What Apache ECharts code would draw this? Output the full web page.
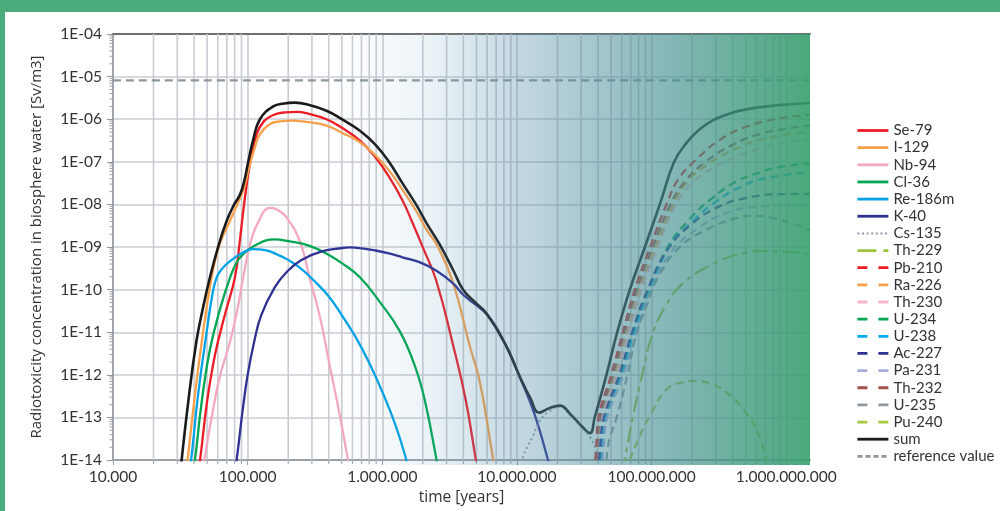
<!DOCTYPE html>
<html>
<head>
<meta charset="utf-8">
<script src="https://cdn.jsdelivr.net/npm/echarts@6/dist/echarts.min.js"></script>
<style>
html,body{margin:0;padding:0;background:#fff;}
#chart{width:1000px;height:511px;}
</style>
</head>
<body>
<div id="chart"></div>
<script>
// ---------- tick labels ----------
const xTickValues = [1e4, 1e5, 1e6, 1e7, 1e8, 1e9];
const xTickLabels = ['10.000', '100.000', '1.000.000', '10.000.000', '100.000.000', '1.000.000.000'];
const yTickValues = [1e-14, 1e-13, 1e-12, 1e-11, 1e-10, 1e-9, 1e-8, 1e-7, 1e-6, 1e-5, 1e-4];
const yTickLabels = ['1E-14', '1E-13', '1E-12', '1E-11', '1E-10', '1E-09', '1E-08', '1E-07', '1E-06', '1E-05', '1E-04'];
const xMinorValues = [2e4,3e4,4e4,5e4,6e4,7e4,8e4,9e4, 2e5,3e5,4e5,5e5,6e5,7e5,8e5,9e5, 2e6,3e6,4e6,5e6,6e6,7e6,8e6,9e6,
                      2e7,3e7,4e7,5e7,6e7,7e7,8e7,9e7, 2e8,3e8,4e8,5e8,6e8,7e8,8e8,9e8];
const yMinorValues = [];
[1e-14,1e-13,1e-12,1e-11,1e-10,1e-9,1e-8,1e-7,1e-6,1e-5].forEach(d => [2,3,4,5,6,7,8,9].forEach(m => yMinorValues.push(d * m)));

// ---------- series data: [time (years), concentration (Sv/m3)] ----------
const se79 = [[4.27e4,5e-15],[4.43e4,1e-14],[5.01e4,2.5e-13],[5.75e4,3.16e-12],[6.76e4,2.5e-11],[8.05e4,1.95e-10],[8.71e4,1.26e-9],[9.27e4,6.9e-9],[9.77e4,2.5e-8],[1.047e5,1.0e-7],[1.167e5,4.47e-7],[1.318e5,8.9e-7],[1.55e5,1.26e-6],[1.905e5,1.45e-6],[2.31e5,1.49e-6],[2.82e5,1.35e-6],[3.85e5,1.0e-6],[5.01e5,6.3e-7],[6.82e5,3.16e-7],[8.91e5,1.26e-7],[1.12e6,4.47e-8],[1.41e6,1.26e-8],[1.66e6,3.98e-9],[2.0e6,9.8e-10],[2.51e6,1.66e-10],[3.37e6,4.7e-12],[4.17e6,2.5e-13],[4.95e6,1e-14],[5.13e6,5e-15]];
const i129 = [[3.47e4,5e-15],[3.58e4,1e-14],[3.98e4,2.0e-13],[4.57e4,6.3e-12],[5.37e4,1.78e-10],[6.17e4,1.12e-9],[7.24e4,3.55e-9],[8.77e4,1.41e-8],[9.55e4,2.82e-8],[1.01e5,6.3e-8],[1.122e5,2.0e-7],[1.233e5,4.47e-7],[1.466e5,7.76e-7],[1.74e5,8.9e-7],[2.12e5,9.3e-7],[2.82e5,8.5e-7],[3.85e5,7.1e-7],[5.01e5,4.8e-7],[6.82e5,2.88e-7],[8.91e5,1.41e-7],[1.12e6,6.3e-8],[1.41e6,2.24e-8],[1.78e6,7.1e-9],[2.14e6,2.5e-9],[2.6e6,9.8e-10],[3.37e6,1.38e-10],[4.47e6,4.7e-12],[5.31e6,6.6e-13],[6.67e6,1e-14],[6.92e6,5e-15]];
const nb94 = [[4.57e4,5e-15],[4.76e4,1e-14],[5.43e4,1.1e-13],[6.22e4,9.3e-13],[7.4e4,6.0e-12],[8.47e4,4.0e-11],[9.27e4,1.95e-10],[1.04e5,1.15e-9],[1.19e5,3.7e-9],[1.466e5,8.3e-9],[1.68e5,7.4e-9],[1.95e5,4.9e-9],[2.44e5,1.38e-9],[2.88e5,1.95e-10],[3.44e5,2.3e-11],[4.08e5,1.58e-12],[4.84e5,1.1e-13],[5.56e5,1e-14],[5.75e5,5e-15]];
const cl36 = [[3.89e4,5e-15],[4.06e4,1e-14],[4.57e4,2.5e-13],[5.25e4,4.0e-12],[6.31e4,4.0e-11],[7.41e4,1.95e-10],[8.3e4,4.4e-10],[9.27e4,6.8e-10],[1.167e5,1.15e-9],[1.585e5,1.51e-9],[2.0e5,1.38e-9],[2.88e5,1.07e-9],[3.98e5,6.6e-10],[5.13e5,3.98e-10],[6.82e5,1.95e-10],[9.6e5,5.1e-11],[1.35e6,1.05e-11],[1.75e6,1.58e-12],[2.07e6,2.5e-13],[2.53e6,1e-14],[2.63e6,5e-15]];
const re186m = [[3.63e4,5e-15],[3.8e4,1e-14],[4.27e4,3.16e-13],[5.01e4,1.26e-11],[5.5e4,8.5e-11],[5.89e4,1.95e-10],[6.4e4,3.0e-10],[6.98e4,3.98e-10],[8.77e4,6.8e-10],[1.096e5,8.9e-10],[1.35e5,8.5e-10],[1.64e5,6.8e-10],[2.0e5,5.0e-10],[2.44e5,3.3e-10],[3.09e5,1.66e-10],[3.98e5,7.1e-11],[5.01e5,2.5e-11],[6.31e5,7.9e-12],[7.94e5,2.0e-12],[1.0e6,4.0e-13],[1.26e6,6.3e-14],[1.51e6,1e-14],[1.585e6,5e-15]];
const k40 = [[7.94e4,5e-15],[8.28e4,1e-14],[9.12e4,1.26e-13],[1.0e5,1e-12],[1.122e5,6.3e-12],[1.26e5,2.5e-11],[1.585e5,1.12e-10],[2.0e5,2.82e-10],[2.51e5,5.0e-10],[3.55e5,7.9e-10],[5.01e5,9.5e-10],[5.75e5,9.8e-10],[7.08e5,9.3e-10],[8.91e5,8.3e-10],[1.12e6,7.1e-10],[1.41e6,5.75e-10],[1.905e6,4.37e-10],[2.51e6,2.82e-10],[3.37e6,1.38e-10],[3.98e6,7.6e-11],[5.01e6,4.27e-11],[5.94e6,2.7e-11],[7.08e6,1.26e-11],[8.13e6,5.5e-12],[9.33e6,2.24e-12],[1.047e7,8.9e-13],[1.2e7,3.24e-13],[1.41e7,7.9e-14],[1.7e7,1e-14],[1.78e7,5e-15]];
const cs135 = [[1.047e7,5e-15],[1.11e7,1.2e-14],[1.32e7,3.8e-14],[1.46e7,7.9e-14],[1.74e7,1.41e-13],[2.08e7,1.82e-13],[2.51e7,1.1e-13],[3.02e7,6.0e-14],[3.47e7,3.55e-14],[3.8e7,2.0e-14],[3.98e7,1.12e-14],[4.17e7,5e-15]];
const th229 = [[6.03e7,5e-15],[6.31e7,1e-14],[7.24e7,1e-13],[8.51e7,1e-12],[1.0e8,7.9e-12],[1.26e8,3.98e-11],[1.7e8,1.38e-10],[2.86e8,3.98e-10],[5.01e8,7.4e-10],[7.08e8,8.1e-10],[1.0e9,7.8e-10],[1.5e9,6.8e-10]];
const pb210 = [[3.76e7,5e-15],[3.89e7,2.5e-14],[4.03e7,1e-13],[5.01e7,1e-12],[6.11e7,1e-11],[7.5e7,1e-10],[9.77e7,1e-9],[1.29e8,1e-8],[1.585e8,3.98e-8],[2.14e8,1.12e-7],[3.16e8,3.16e-7],[5.01e8,6.6e-7],[8.91e8,1.05e-6],[1.5e9,1.26e-6]];
const ra226 = [[3.91e7,5e-15],[4.05e7,2.5e-14],[4.22e7,1e-13],[5.31e7,1e-12],[6.61e7,1e-11],[8.13e7,1e-10],[1.07e8,1e-9],[1.445e8,1e-8],[1.86e8,3.55e-8],[2.63e8,8.9e-8],[4.17e8,2.0e-7],[7.08e8,3.55e-7],[1.5e9,5.0e-7]];
const th230 = [[3.98e7,5e-15],[4.12e7,2.5e-14],[4.32e7,1e-13],[5.5e7,1e-12],[6.76e7,1e-11],[8.41e7,1e-10],[1.11e8,1e-9],[1.51e8,1e-8],[2.0e8,3.16e-8],[2.82e8,7.1e-8],[4.47e8,1.41e-7],[7.94e8,2.5e-7],[1.5e9,3.47e-7]];
const u234 = [[4.12e7,5e-15],[4.27e7,2.5e-14],[4.52e7,1e-13],[5.89e7,1e-12],[7.24e7,1e-11],[9.55e7,1e-10],[1.318e8,1e-9],[1.905e8,4.47e-9],[2.82e8,1.41e-8],[4.27e8,3.47e-8],[6.31e8,5.6e-8],[8.91e8,7.6e-8],[1.5e9,9.1e-8]];
const u238 = [[4.17e7,5e-15],[4.32e7,2.5e-14],[4.57e7,1e-13],[6.03e7,1e-12],[7.41e7,1e-11],[9.77e7,1e-10],[1.35e8,1e-9],[2.0e8,3.98e-9],[2.95e8,1.12e-8],[4.47e8,2.5e-8],[7.08e8,4.17e-8],[1.5e9,5.6e-8]];
const ac227 = [[4.03e7,5e-15],[4.17e7,2.5e-14],[4.42e7,1e-13],[5.75e7,1e-12],[7.16e7,1e-11],[9.33e7,1e-10],[1.318e8,8.9e-10],[2.0e8,3.55e-9],[3.16e8,8.9e-9],[5.01e8,1.41e-8],[8.91e8,1.74e-8],[1.5e9,1.78e-8]];
const pa231 = [[4.27e7,5e-15],[4.42e7,2.5e-14],[4.68e7,1e-13],[6.17e7,1e-12],[7.76e7,1e-11],[1.0e8,1e-10],[1.41e8,7.9e-10],[2.24e8,2.82e-9],[3.55e8,6.3e-9],[6.31e8,8.9e-9],[1.5e9,1.0e-8]];
const th232 = [[3.85e7,5e-15],[3.98e7,2.5e-14],[4.14e7,1e-13],[5.15e7,1e-12],[6.31e7,1e-11],[7.76e7,1e-10],[1.02e8,1e-9],[1.38e8,1e-8],[1.78e8,3.55e-8],[2.51e8,1e-7],[3.98e8,2.5e-7],[6.31e8,4.47e-7],[1.0e9,6.0e-7],[1.5e9,7.1e-7]];
const u235 = [[4.57e7,5e-15],[4.79e7,2.5e-14],[5.5e7,1e-13],[6.61e7,1e-12],[7.76e7,1e-11],[9.12e7,3.98e-11],[1.122e8,2.0e-10],[1.62e8,1e-9],[2.51e8,2.5e-9],[3.98e8,4.47e-9],[5.62e8,5.4e-9],[7.94e8,4.8e-9],[1.12e9,3.55e-9],[1.5e9,2.5e-9]];
const pu240 = [[6.61e7,5e-15],[6.89e7,1e-14],[8.13e7,3.55e-14],[9.7e7,1.1e-13],[1.29e8,4.57e-13],[1.66e8,6.6e-13],[2.15e8,7.2e-13],[2.82e8,6.0e-13],[3.6e8,3.9e-13],[5.01e8,1.32e-13],[6.03e8,5.0e-14],[7.08e8,1.1e-14],[7.41e8,5e-15]];
const sum = [[3.16e4,5e-15],[3.63e4,2.5e-13],[4.17e4,6.3e-12],[4.68e4,4.0e-11],[5.25e4,1.95e-10],[6.03e4,1.0e-9],[6.98e4,4.07e-9],[7.94e4,1.0e-8],[8.77e4,1.7e-8],[9.44e4,3.55e-8],[1.01e5,1.0e-7],[1.096e5,3.16e-7],[1.233e5,1.0e-6],[1.55e5,2.0e-6],[1.86e5,2.34e-6],[2.24e5,2.45e-6],[2.82e5,2.19e-6],[3.85e5,1.58e-6],[5.01e5,1.0e-6],[6.82e5,5.37e-7],[8.91e5,2.51e-7],[1.12e6,1.0e-7],[1.41e6,3.16e-8],[1.78e6,1.0e-8],[2.14e6,3.55e-9],[2.68e6,1.12e-9],[3.37e6,2.82e-10],[3.98e6,1.0e-10],[4.9e6,5.0e-11],[5.94e6,2.75e-11],[8.13e6,5.5e-12],[1.047e7,9.3e-13],[1.26e7,2.8e-13],[1.46e7,1.3e-13],[1.74e7,1.66e-13],[2.08e7,1.9e-13],[2.51e7,1.17e-13],[3.02e7,6.3e-14],[3.48e7,4.3e-14],[3.78e7,1.0e-13],[4.62e7,1.0e-12],[5.55e7,1.0e-11],[6.89e7,1.0e-10],[8.91e7,1.0e-9],[1.15e8,1.0e-8],[1.47e8,1.0e-7],[1.82e8,2.82e-7],[2.24e8,5.6e-7],[2.82e8,9.3e-7],[3.55e8,1.26e-6],[5.01e8,1.7e-6],[8.91e8,2.14e-6],[1.5e9,2.4e-6]];
const referenceValue = [[1e4,8.2e-6],[1.5e9,8.2e-6]];

// ---------- layout ----------
const W = 1000, H = 511;
const G = {left: 113, top: 34, right: 190, bottom: 46};
const X_MIN = 1e4, X_MAX = 1.5e9, Y_MIN = 1e-14, Y_MAX = 1e-4;
const FONT = 'Lato';
const GREEN = '#4aab7d';
const GRID_C = '#c9ccd3';

const defs = [
  ['Se-79', se79, '#ed1c24', 'solid'],
  ['I-129', i129, '#f7a04a', 'solid'],
  ['Nb-94', nb94, '#f4a8c1', 'solid'],
  ['Cl-36', cl36, '#00a651', 'solid'],
  ['Re-186m', re186m, '#00a2e6', 'solid'],
  ['K-40', k40, '#2e3192', 'solid'],
  ['Cs-135', cs135, '#8d9ca8', 'dot'],
  ['Th-229', th229, '#9dc43d', 'dashlong'],
  ['Pb-210', pb210, '#ed1c24', 'dash'],
  ['Ra-226', ra226, '#f7a04a', 'dash'],
  ['Th-230', th230, '#f7b6cb', 'dash'],
  ['U-234', u234, '#00a651', 'dash'],
  ['U-238', u238, '#00aeef', 'dash'],
  ['Ac-227', ac227, '#2e3192', 'dash'],
  ['Pa-231', pa231, '#a6acdc', 'dash'],
  ['Th-232', th232, '#a3524a', 'dash'],
  ['U-235', u235, '#8e979e', 'dash'],
  ['Pu-240', pu240, '#a8c83c', 'dash'],
  ['sum', sum, '#1a1a1a', 'solid'],
  ['reference value', referenceValue, '#8e979e', 'ref']
];
const plotDash = {solid: 'solid', dot: [2, 3], dash: [8, 5], dashlong: [16, 5, 5, 5], ref: [8, 5]};
const legendDash = {solid: 'solid', dot: [2, 2.6], dash: [10, 11], dashlong: [19, 7, 5, 7], ref: [5, 3]};

const series = defs.map(([name, data, color, kind]) => ({
  name, type: 'line', data, symbol: 'none', showSymbol: false, smooth: 0.45,
  lineStyle: {color, width: kind === 'dot' ? 2 : (name === 'sum' ? 2.6 : 2.3), type: plotDash[kind]},
  itemStyle: {color},
  z: name === 'sum' ? 5 : 3, animation: false
}));

// minor grid lines + ticks on x axis
series.push({
  type: 'custom', name: '_xminor', silent: true, z: 1,
  data: xMinorValues.map(v => [v, 1e-9]),
  renderItem: (params, api) => {
    const x = api.value(0);
    const b = api.coord([x, Y_MIN]);
    const t = api.coord([x, Y_MAX]);
    return {type: 'group', children: [
      {type: 'line', shape: {x1: b[0], y1: b[1], x2: t[0], y2: t[1]}, style: {stroke: GRID_C, lineWidth: 1.6}},
      {type: 'line', shape: {x1: b[0], y1: b[1], x2: b[0], y2: b[1] + 4}, style: {stroke: '#9aa0a8', lineWidth: 1}}
    ]};
  }
});
// minor ticks on y axis
series.push({
  type: 'custom', name: '_yminor', silent: true, z: 1,
  data: yMinorValues.map(v => [1e5, v]),
  renderItem: (params, api) => {
    const p = api.coord([X_MIN, api.value(1)]);
    return {type: 'line', shape: {x1: p[0] - 3.5, y1: p[1], x2: p[0], y2: p[1]}, style: {stroke: '#9aa0a8', lineWidth: 1}};
  }
});

function idxOf(vals, v) {
  return vals.findIndex(t => Math.abs(Math.log10(t) - Math.log10(v)) < 1e-6);
}

const chart = echarts.init(document.getElementById('chart'), null, {renderer: 'canvas', width: W, height: H});
const plotW = W - G.left - G.right, plotH = H - G.top - G.bottom;

chart.setOption({
  animation: false,
  backgroundColor: '#ffffff',
  textStyle: {fontFamily: FONT},
  grid: {left: G.left, top: G.top, right: G.right, bottom: G.bottom, containLabel: false},
  xAxis: [{
    type: 'log', logBase: 10, min: X_MIN, max: X_MAX, splitNumber: 5,
    name: 'time [years]', nameLocation: 'middle', nameGap: 24,
    nameTextStyle: {fontFamily: 'Open Sans', fontSize: 15.5, color: '#333'},
    axisLine: {show: true, lineStyle: {color: '#9aa0a8', width: 2}},
    axisTick: {show: true, length: 5, lineStyle: {color: '#9aa0a8', width: 1}},
    axisLabel: {fontFamily: FONT, fontSize: 15.5, color: '#333', margin: 9, showMaxLabel: false,
      formatter: v => { const i = idxOf(xTickValues, v); return i >= 0 ? xTickLabels[i] : ''; }},
    splitLine: {show: true, showMaxLine: false, lineStyle: {color: GRID_C, width: 1.6}},
    minorTick: {show: false}
  }, {
    type: 'value', position: 'top', min: 0, max: 1,
    axisLine: {show: true, lineStyle: {color: '#6f6f6f', width: 2}},
    axisTick: {show: false}, axisLabel: {show: false}, splitLine: {show: false}
  }],
  yAxis: [{
    type: 'log', logBase: 10, min: Y_MIN, max: Y_MAX, splitNumber: 10, interval: 1,
    name: 'Radiotoxicity concentration in biosphere water [Sv/m3]', nameLocation: 'middle', nameGap: 69,
    nameTextStyle: {fontFamily: 'Open Sans', fontSize: 15, color: '#333'},
    axisLine: {show: true, lineStyle: {color: '#8f959c', width: 1.5}},
    axisTick: {show: true, length: 6, lineStyle: {color: '#8f959c', width: 1}},
    axisLabel: {fontFamily: FONT, fontSize: 15.5, color: '#333', margin: 11,
      formatter: v => { const i = idxOf(yTickValues, v); return i >= 0 ? yTickLabels[i] : ''; }},
    splitLine: {show: true, lineStyle: {color: GRID_C, width: 1.6}}
  }],
  legend: {
    orient: 'vertical', left: 856, top: 123, padding: 0,
    itemWidth: 31, itemHeight: 14, itemGap: 2.15,
    textStyle: {fontFamily: FONT, fontSize: 15, color: '#333', lineHeight: 14},
    itemStyle: {opacity: 0, borderWidth: 0},
    data: defs.map(([name, data, color, kind]) => ({
      name,
      itemStyle: {opacity: 0, color: 'rgba(0,0,0,0)', borderWidth: 0},
      lineStyle: {type: legendDash[kind], width: kind === 'dot' ? 2 : 2.8, color}
    }))
  },
  graphic: [
    {type: 'rect', left: 0, top: 0, shape: {width: W, height: 12}, style: {fill: GREEN}, z: 0, silent: true},
    {type: 'rect', left: 0, top: 0, shape: {width: 5, height: H}, style: {fill: GREEN}, z: 0, silent: true},
    {type: 'rect', left: G.left, top: G.top, shape: {width: plotW, height: plotH}, silent: true, z: 100,
      style: {fill: new echarts.graphic.LinearGradient(0, 0, 1, 0, [
        {offset: 0, color: 'rgba(120,170,195,0)'},
        {offset: 0.32, color: 'rgba(120,170,195,0)'},
        {offset: 0.45, color: 'rgba(100,160,185,0.12)'},
        {offset: 0.58, color: 'rgba(86,143,171,0.35)'},
        {offset: 0.77, color: 'rgba(71,143,149,0.62)'},
        {offset: 1, color: 'rgba(54,159,108,0.9)'}
      ])}}
  ],
  series
});
</script>
</body>
</html>
